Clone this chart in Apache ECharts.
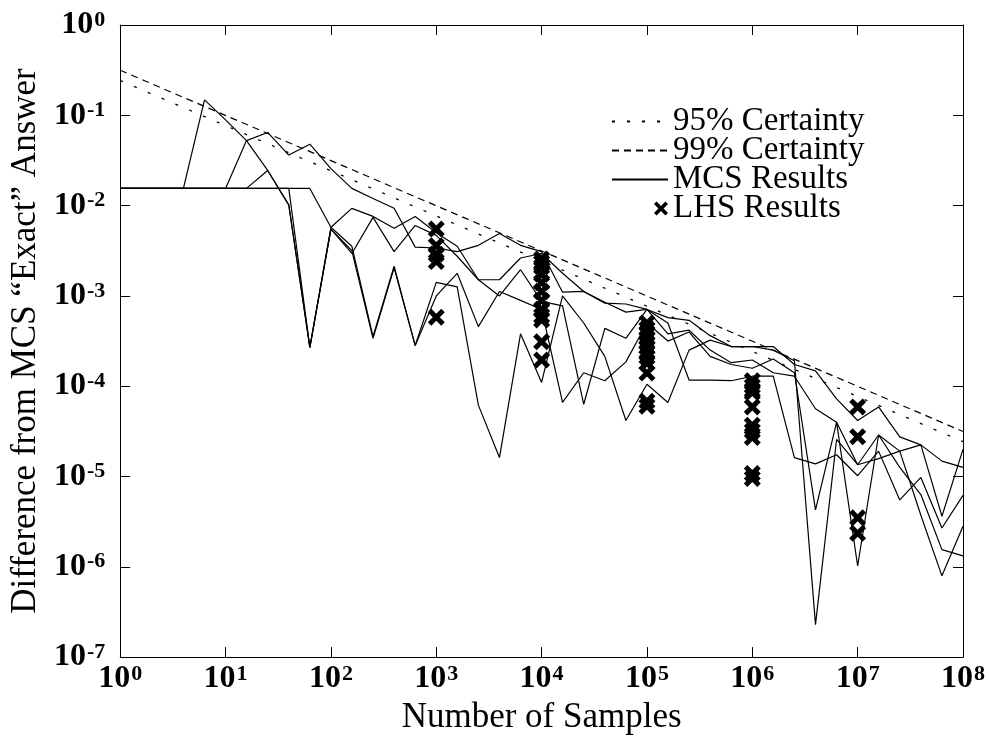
<!DOCTYPE html>
<html>
<head>
<meta charset="utf-8">
<script src="https://cdn.jsdelivr.net/npm/echarts@6/dist/echarts.min.js"></script>
<style>
html,body{margin:0;padding:0;background:#fff;}
#chart{width:989px;height:740px;}
</style>
</head>
<body>
<div id="chart"></div>
<script>
// Number of samples at which each MCS run was evaluated
const samples = [1, 1.58, 2.51, 3.98, 6.31, 10, 15.8, 25.1, 39.8, 63.1,
  100, 158, 251, 398, 631, 1000, 1580, 2510, 3980, 6310,
  1e4, 1.58e4, 2.51e4, 3.98e4, 6.31e4, 1e5, 1.58e5, 2.51e5, 3.98e5, 6.31e5,
  1e6, 1.58e6, 2.51e6, 3.98e6, 6.31e6, 1e7, 1.58e7, 2.51e7, 3.98e7, 6.31e7, 1e8];

const mcsRun1 = [0.0155, 0.0155, 0.0155, 0.0155, 0.0155, 0.0155, 0.0525, 0.0646, 0.0363, 0.0479,
  0.0257, 0.0155, 0.0120, 0.00933, 0.00347, 0.00339, 0.00309, 0.00363, 0.00490, 0.00363,
  0.00309, 0.00110, 0.00112, 8.32e-4, 8.13e-4, 7.08e-4, 5.75e-4, 5.37e-4, 3.63e-4, 2.75e-4,
  2.75e-4, 2.75e-4, 1.74e-4, 1.48e-4, 7.24e-5, 4.17e-5, 5.89e-5, 2.75e-5, 2.24e-5, 3.63e-6, 2.00e-5];

const mcsRun2 = [0.0155, 0.0155, 0.0155, 0.0155, 0.148, 0.0891, 0.0525, 0.0245, 0.0102, 2.69e-4,
  0.00575, 0.00933, 0.00759, 0.00562, 0.00759, 0.00501, 0.00355, 0.00151, 0.00151, 0.00263,
  0.00295, 0.00178, 0.00112, 8.51e-4, 6.61e-4, 7.08e-4, 3.80e-4, 4.17e-4, 2.51e-4, 1.82e-4,
  1.95e-4, 1.41e-4, 1.29e-4, 5.62e-5, 3.98e-5, 1.35e-5, 2.88e-5, 1.91e-5, 2.24e-5, 1.48e-5, 1.26e-5];

const mcsRun3 = [0.0155, 0.0155, 0.0155, 0.0155, 0.0155, 0.0155, 0.0155, 0.0245, 0.0102, 2.69e-4,
  0.00550, 0.00295, 0.00741, 0.00309, 0.00603, 0.00468, 0.00275, 0.00151, 0.00100, 0.00195,
  8.71e-4, 7.76e-4, 6.31e-5, 4.37e-4, 3.39e-4, 7.08e-4, 5.01e-4, 1.17e-4, 1.17e-4, 1.15e-4,
  1.29e-4, 1.29e-4, 1.62e-5, 1.38e-5, 1.74e-5, 1.02e-5, 1.91e-5, 5.50e-6, 9.77e-6, 2.69e-6, 6.17e-6];

const mcsRun4 = [0.0155, 0.0155, 0.0155, 0.0155, 0.0155, 0.0155, 0.0155, 0.0155, 0.0155, 2.69e-4,
  0.00550, 0.00316, 3.39e-4, 0.00204, 2.82e-4, 0.00141, 0.00126, 6.17e-5, 1.62e-5, 3.80e-4,
  1.10e-4, 0.00100, 5.01e-4, 2.14e-4, 4.17e-5, 1.05e-4, 6.61e-5, 2.51e-4, 3.24e-4, 2.75e-4,
  2.75e-4, 2.51e-4, 1.91e-4, 2.29e-7, 2.57e-5, 1.35e-5, 1.58e-5, 1.91e-5, 3.72e-6, 7.94e-7, 2.82e-6];

const mcsRun5 = [0.0155, 0.0155, 0.0155, 0.0155, 0.0155, 0.0155, 0.0155, 0.0155, 0.0155, 0.0155,
  0.00575, 0.00355, 3.55e-4, 0.00214, 2.82e-4, 0.00100, 0.00178, 4.57e-4, 0.00112, 8.91e-4,
  7.08e-4, 6.61e-5, 1.41e-4, 1.15e-4, 1.86e-4, 5.01e-4, 3.16e-4, 3.98e-4, 2.14e-4, 1.74e-4,
  1.58e-4, 2.00e-4, 1.41e-4, 4.27e-6, 3.98e-5, 1.02e-6, 2.88e-5, 1.26e-5, 6.31e-6, 1.55e-6, 1.32e-6];

// LHS results
const lhsSampleSizes = [1e3, 1e4, 1e5, 1e6, 1e7];
const lhsAt1e3 = [0.0055, 0.0036, 0.0029, 0.0024, 0.00058];
const lhsAt1e4 = [0.00257, 0.00234, 0.0021, 0.00174, 0.00141, 0.00112, 0.00089, 0.00071, 0.0006, 0.00054, 0.00031, 0.000195];
const lhsAt1e5 = [5.0e-4, 4.3e-4, 3.8e-4, 3.4e-4, 3.0e-4, 2.7e-4, 2.4e-4, 2.1e-4, 1.8e-4, 1.4e-4, 6.8e-5, 6.0e-5];
const lhsAt1e6 = [1.15e-4, 1.0e-4, 9.0e-5, 8.5e-5, 5.9e-5, 3.7e-5, 3.2e-5, 2.7e-5, 1.08e-5, 9.5e-6];
const lhsAt1e7 = [5.9e-5, 2.75e-5, 3.5e-6, 2.35e-6];

// Certainty bounds (straight lines on log-log axes), endpoints
const certaintyN = [1, 1e8];
const certainty95 = [0.243, 2.43e-5];
const certainty99 = [0.315, 3.15e-5];

const seriesNames = ['95% Certainty', '99% Certainty', 'MCS Results', 'LHS Results'];

const serif = 'Liberation Serif';
const pair = (xs, ys) => xs.map((x, i) => [x, ys[i]]);
const lhsGroups = [lhsAt1e3, lhsAt1e4, lhsAt1e5, lhsAt1e6, lhsAt1e7];
const lhsData = [];
lhsGroups.forEach((g, i) => g.forEach(v => lhsData.push([lhsSampleSizes[i], v])));

const xShape = 'path://M0,2.5L2.5,0L6,3.5L9.5,0L12,2.5L8.5,6L12,9.5L9.5,12L6,8.5L2.5,12L0,9.5L3.5,6Z';
const xLegendShape = 'path://M0,0L0.01,0L0,0.01Z M42,2.6L44.6,0L49,4.4L53.4,0L56,2.6L51.6,7L56,11.4L53.4,14L49,9.6L44.6,14L42,11.4L46.4,7Z';

const powLabel = v => {
  const e = Math.round(Math.log10(v));
  return '{b|10}{s|' + (e < 0 ? '-' + (-e) : e) + '}';
};
const richLabel = {
  b: {fontFamily: serif, fontSize: 32, fontWeight: 'bold', color: '#000', lineHeight: 32},
  s: {fontFamily: serif, fontSize: 22, fontWeight: 'bold', color: '#000', lineHeight: 16, verticalAlign: 'top', padding: [0, 0, 0, 1]}
};
const axisCommon = {
  axisLine: {show: true, lineStyle: {color: '#000', width: 1}},
  axisTick: {show: true, inside: true, length: 10, lineStyle: {color: '#000', width: 1}},
  splitLine: {show: false},
  minorTick: {show: false}
};

const mcsRuns = [mcsRun1, mcsRun2, mcsRun3, mcsRun4, mcsRun5];
const series = [];
mcsRuns.forEach(run => {
  series.push({
    name: seriesNames[2], type: 'line', data: pair(samples, run),
    symbol: 'none', lineStyle: {color: '#000', width: 1.2}, itemStyle: {color: '#000'},
    animation: false, z: 2
  });
});
series.push({
  name: seriesNames[0], type: 'line', data: pair(certaintyN, certainty95),
  symbol: 'none', lineStyle: {color: '#000', width: 1.3, type: [3, 12]}, itemStyle: {color: '#000'},
  animation: false, z: 3
});
series.push({
  name: seriesNames[1], type: 'line', data: pair(certaintyN, certainty99),
  symbol: 'none', lineStyle: {color: '#000', width: 1.2, type: [7, 5]}, itemStyle: {color: '#000'},
  animation: false, z: 3
});
series.push({
  name: seriesNames[3], type: 'scatter', data: lhsData,
  symbol: xShape, symbolSize: 17, itemStyle: {color: '#000', opacity: 1},
  animation: false, z: 5
});

const chart = echarts.init(document.getElementById('chart'), null, {renderer: 'canvas'});
chart.setOption({
  backgroundColor: '#fff',
  animation: false,
  grid: {left: 117, right: 26, top: 25, bottom: 70, containLabel: false},
  legend: {
    orient: 'vertical', left: 606, top: 100,
    itemWidth: 56, itemHeight: 14, itemGap: -4,
    selectedMode: false,
    itemStyle: {color: 'rgba(0,0,0,0)', borderWidth: 0, borderColor: 'rgba(0,0,0,0)'},
    textStyle: {fontFamily: serif, fontSize: 33, color: '#000'},
    data: [
      {name: seriesNames[0]},
      {name: seriesNames[1]},
      {name: seriesNames[2]},
      {name: seriesNames[3], icon: xLegendShape, itemStyle: {color: '#000', opacity: 1}}
    ]
  },
  xAxis: [
    Object.assign({
      type: 'log', logBase: 10, min: 1, max: 1e8, splitNumber: 8, position: 'bottom',
      name: 'Number of Samples', nameLocation: 'middle', nameGap: 27,
      nameTextStyle: {fontFamily: serif, fontSize: 35, color: '#000'},
      axisLabel: {show: true, margin: 6, formatter: powLabel, rich: richLabel}
    }, axisCommon),
    Object.assign({
      type: 'log', logBase: 10, min: 1, max: 1e8, splitNumber: 8, position: 'top',
      axisLabel: {show: false}
    }, axisCommon)
  ],
  yAxis: [
    Object.assign({
      type: 'log', logBase: 10, min: 1e-7, max: 1, splitNumber: 7, position: 'left',
      name: 'Difference from MCS \u201cExact\u201d Answer', nameLocation: 'middle', nameGap: 74, nameRotate: 90,
      nameTextStyle: {fontFamily: serif, fontSize: 35, color: '#000'},
      axisLabel: {show: true, margin: 15, formatter: powLabel, rich: richLabel}
    }, axisCommon),
    Object.assign({
      type: 'log', logBase: 10, min: 1e-7, max: 1, splitNumber: 7, position: 'right',
      axisLabel: {show: false}
    }, axisCommon)
  ],
  series: series
});
</script>
</body>
</html>
